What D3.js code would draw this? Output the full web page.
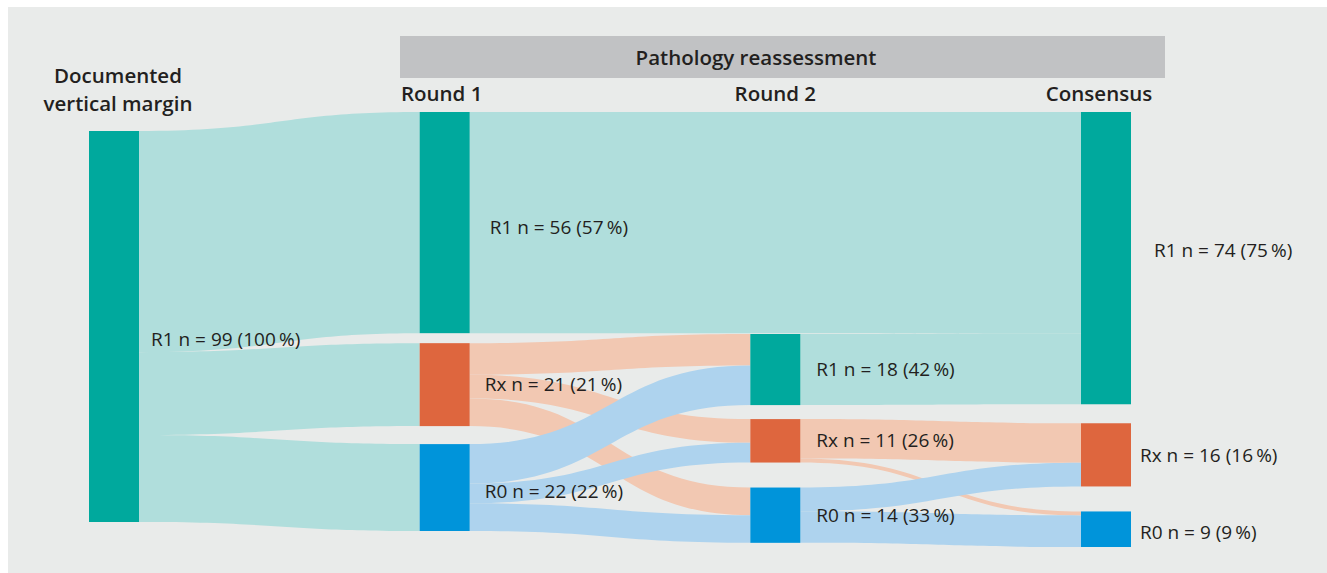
<!DOCTYPE html>
<html>
<head>
<meta charset="utf-8">
<script src="https://cdn.jsdelivr.net/npm/d3@7"></script>
<style>
  html, body { margin: 0; padding: 0; background: #ffffff; }
  svg { display: block; }
  text { font-family: "Open Sans", "Noto Sans", sans-serif; fill: #231f20; }
</style>
</head>
<body>
<svg id="chart" width="1327" height="573"></svg>
<script>
// ---------------- DATA ----------------
const nodeNames    = ["R1", "R1", "Rx", "R0", "R1", "Rx", "R0", "R1", "Rx", "R0"];
const nodeColumns  = [0, 1, 1, 1, 2, 2, 2, 3, 3, 3];
const nodeValues   = [99, 56, 21, 22, 18, 11, 14, 74, 16, 9];
const nodePercents = [100, 57, 21, 22, 42, 26, 33, 75, 16, 9];

const columnTitles = [["Documented", "vertical margin"], ["Round 1"], ["Round 2"], ["Consensus"]];
const headerTitle  = "Pathology reassessment";

const linkSources = [0, 0, 0, 1, 2, 2, 2, 3, 3, 3, 4, 5, 5, 6, 6];
const linkTargets = [1, 2, 3, 7, 4, 5, 6, 4, 5, 6, 7, 8, 9, 8, 9];
const linkValues  = [56, 21, 22, 56, 8, 6, 7, 10, 5, 7, 18, 10, 1, 6, 8];

// ---------------- LAYOUT / STYLE ----------------
const W = 1327, H = 573;
const nodeWidth = 50;
const colTop  = [131, 112, 334, 112];
const colGaps = [[], [10, 18], [14, 25], [19, 25]];
const labelDx = [12, 20, 15, 15, 16, 16, 16, 23, 9, 9];
const labelDy = [13, 5, 0, 4, 0, 0, 0, -8, 0, 3];
const titleDx = [4, -3, 0, -7];

const nodeColor = { R1: "#00a99d", Rx: "#de663e", R0: "#0094da" };
const linkColor = { R1: "#b0dedc", Rx: "#f2c8b2", R0: "#aed3ee" };

const x = d3.scaleLinear().domain([0, 3]).range([89, 1081]);
const h = d3.scaleLinear().domain([0, 99]).range([0, 391]);

const svg = d3.select("#chart");

// background panel
svg.append("rect").attr("x", 8).attr("y", 7).attr("width", W - 8).attr("height", H - 7)
  .attr("fill", "#e9ebea");

// header bar
svg.append("rect").attr("x", 400).attr("y", 36).attr("width", 765).attr("height", 42)
  .attr("fill", "#c1c2c4");
svg.append("text").attr("x", 756).attr("y", 65).attr("text-anchor", "middle")
  .attr("font-size", 20.5).attr("font-weight", 600).text(headerTitle);

// build nodes
const nodes = nodeNames.map((name, i) => ({
  i, name, col: nodeColumns[i], value: nodeValues[i], pct: nodePercents[i]
}));
const colCounter = {};
nodes.forEach(n => {
  const k = colCounter[n.col] || 0;
  if (k === 0) n.y0 = colTop[n.col];
  else {
    const prev = nodes.filter(m => m.col === n.col)[k - 1];
    n.y0 = prev.y1 + colGaps[n.col][k - 1];
  }
  n.y1 = n.y0 + h(n.value);
  n.x0 = x(n.col);
  n.x1 = n.x0 + nodeWidth;
  colCounter[n.col] = k + 1;
});

// build links
const links = linkValues.map((v, i) => ({
  source: nodes[linkSources[i]], target: nodes[linkTargets[i]], value: v, idx: i
}));
nodes.forEach(n => {
  const outs = links.filter(l => l.source === n).sort((a, b) => a.target.y0 - b.target.y0);
  let o = n.y0;
  outs.forEach(l => { l.sy0 = o; o += h(l.value); l.sy1 = o; });
  const ins = links.filter(l => l.target === n).sort((a, b) => a.source.y0 - b.source.y0);
  let t = n.y0;
  ins.forEach(l => { l.ty0 = t; t += h(l.value); l.ty1 = t; });
});

function bandPath(l) {
  const x0 = l.source.x1, x1 = l.target.x0;
  const xm = (x0 + x1) / 2;
  const p = d3.path();
  p.moveTo(x0, l.sy0);
  p.bezierCurveTo(xm, l.sy0, xm, l.ty0, x1, l.ty0);
  p.lineTo(x1, l.ty1);
  p.bezierCurveTo(xm, l.ty1, xm, l.sy1, x0, l.sy1);
  p.closePath();
  return p.toString();
}

const order = { R1: 0, Rx: 1, R0: 2 };
const drawLinks = links.slice().sort((a, b) =>
  (a.source.col - b.source.col) || (order[a.source.name] - order[b.source.name]) || (a.idx - b.idx));

svg.append("g").selectAll("path").data(drawLinks).join("path")
  .attr("d", bandPath)
  .attr("fill", d => linkColor[d.source.name]);

// nodes
svg.append("g").selectAll("rect").data(nodes).join("rect")
  .attr("x", d => d.x0).attr("y", d => d.y0)
  .attr("width", nodeWidth).attr("height", d => d.y1 - d.y0)
  .attr("fill", d => nodeColor[d.name]);

// node labels
svg.append("g").selectAll("text").data(nodes).join("text")
  .attr("x", d => d.x1 + labelDx[d.i])
  .attr("y", d => (d.y0 + d.y1) / 2 + labelDy[d.i])
  .attr("dy", "0.35em")
  .attr("font-size", 19)
  .text(d => `${d.name} n = ${d.value} (${d.pct}\u2009%)`);

// column titles
const titleG = svg.append("g");
columnTitles.forEach((lines, c) => {
  const cx = x(c) + nodeWidth / 2 + titleDx[c];
  const baseY = lines.length > 1 ? 83 : 101;
  lines.forEach((ln, j) => {
    titleG.append("text").attr("x", cx).attr("y", baseY + j * 28)
      .attr("text-anchor", "middle").attr("font-size", 20.5).attr("font-weight", 600)
      .text(ln);
  });
});
</script>
</body>
</html>
